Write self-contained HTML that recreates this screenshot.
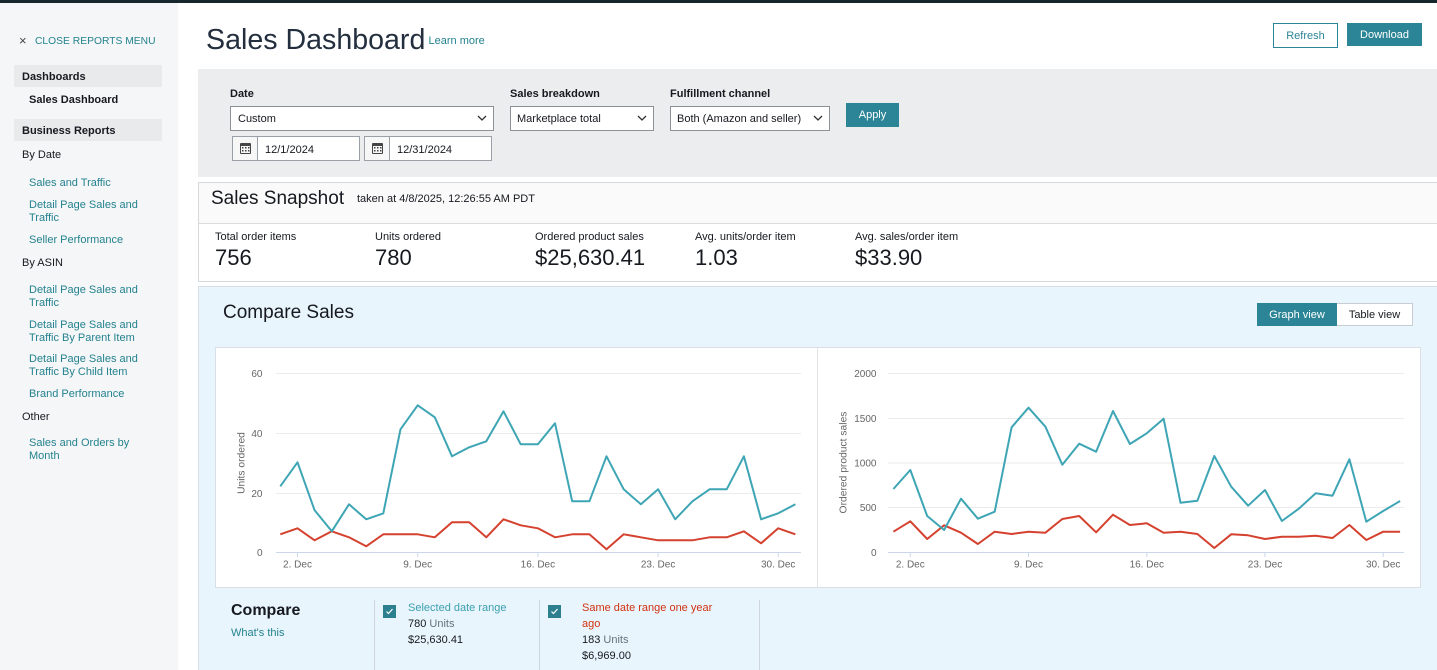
<!DOCTYPE html>
<html><head><meta charset="utf-8"><style>
*{box-sizing:border-box}
body{margin:0;width:1437px;height:670px;overflow:hidden;position:relative;background:#fff;font-family:"Liberation Sans",Arial,sans-serif;color:#16191f}
.a{position:absolute}
.t{position:absolute;white-space:nowrap;font-size:11px;line-height:14px;margin-top:1px}
.t0{margin-top:0}
.m{position:absolute;white-space:nowrap;font-size:11px;line-height:13px;color:#23828f;margin-top:1px}
.lk{color:#23828f}
.b{font-weight:bold}
.box{position:absolute;background:#fff;border:1px solid #8c9196}
.btn{position:absolute;font-size:11px;text-align:center;padding-top:1px}
</style></head><body>
<div class="a" style="left:0;top:0;width:1437px;height:3px;background:#15262c"></div>
<!-- sidebar -->
<div class="a" style="left:0;top:3px;width:178px;height:667px;background:#f5f6f7"></div>
<div class="t" style="left:19px;top:33px;font-size:13px;color:#444">×</div>
<div class="t lk" style="left:35px;top:34px;font-size:10.3px">CLOSE REPORTS MENU</div>
<div class="a" style="left:14px;top:65px;width:148px;height:22px;background:#e8eaec"></div>
<div class="t b" style="left:22px;top:69px">Dashboards</div>
<div class="t b" style="left:29px;top:92px">Sales Dashboard</div>
<div class="a" style="left:14px;top:119px;width:148px;height:22px;background:#e8eaec"></div>
<div class="t b" style="left:22px;top:123px">Business Reports</div>
<div class="t" style="left:22px;top:147px">By Date</div>
<div class="t lk" style="left:29px;top:175px">Sales and Traffic</div>
<div class="m" style="left:29px;top:197.5px">Detail Page Sales and<br>Traffic</div>
<div class="t lk" style="left:29px;top:232px">Seller Performance</div>
<div class="t" style="left:22px;top:255px">By ASIN</div>
<div class="m" style="left:29px;top:282.5px">Detail Page Sales and<br>Traffic</div>
<div class="m" style="left:29px;top:317.5px">Detail Page Sales and<br>Traffic By Parent Item</div>
<div class="m" style="left:29px;top:351.8px">Detail Page Sales and<br>Traffic By Child Item</div>
<div class="t lk" style="left:29px;top:386px">Brand Performance</div>
<div class="t" style="left:22px;top:409px">Other</div>
<div class="m" style="left:29px;top:436.2px">Sales and Orders by<br>Month</div>

<!-- header -->
<div class="t t0" style="left:206px;top:23px;font-size:28.6px;line-height:34px;color:#232f3e">Sales Dashboard</div>
<div class="t lk" style="left:428.5px;top:33.3px">Learn more</div>
<div class="btn" style="left:1273px;top:23px;width:65px;height:25px;border:1px solid #2b8596;color:#2b8596;line-height:22px">Refresh</div>
<div class="btn" style="left:1347px;top:23px;width:75px;height:23px;background:#2b8596;color:#fff;line-height:22px">Download</div>

<!-- filters -->
<div class="a" style="left:198px;top:69px;width:1239px;height:108px;background:#ebedef"></div>
<div class="t b" style="left:230px;top:86px">Date</div>
<div class="box" style="left:230px;top:106px;width:264px;height:25px"></div>
<div class="t" style="left:238px;top:111px">Custom</div>
<div class="box" style="left:232px;top:136px;width:26px;height:25px;border-color:#9aa0a6;background:#f7f7f7"></div>
<div class="box" style="left:257px;top:136px;width:103px;height:25px;border-color:#9aa0a6"></div>
<div class="t" style="left:265px;top:141.5px">12/1/2024</div>
<div class="box" style="left:364px;top:136px;width:26px;height:25px;border-color:#9aa0a6;background:#f7f7f7"></div>
<div class="box" style="left:389px;top:136px;width:103px;height:25px;border-color:#9aa0a6"></div>
<div class="t" style="left:397px;top:141.5px">12/31/2024</div>
<div class="t b" style="left:510px;top:86px">Sales breakdown</div>
<div class="box" style="left:510px;top:106px;width:144px;height:25px"></div>
<div class="t" style="left:517px;top:111px">Marketplace total</div>
<div class="t b" style="left:670px;top:86px">Fulfillment channel</div>
<div class="box" style="left:670px;top:106px;width:160px;height:25px"></div>
<div class="t" style="left:677px;top:111px">Both (Amazon and seller)</div>
<div class="btn" style="left:846px;top:103px;width:53px;height:24px;background:#2b8596;color:#fff;line-height:23px">Apply</div>

<!-- snapshot -->
<div class="a" style="left:198px;top:182px;width:1245px;height:100px;border:1px solid #d5d9dc;background:#fff"></div>
<div class="a" style="left:199px;top:183px;width:1238px;height:41px;background:#fafafa;border-bottom:1px solid #d9dcdf"></div>
<div class="t t0" style="left:211px;top:188px;font-size:19px;line-height:22px;color:#16191f">Sales Snapshot</div>
<div class="t" style="left:357px;top:191px">taken at 4/8/2025, 12:26:55 AM PDT</div>
<div class="t t0" style="left:215px;top:229.7px">Total order items</div>
<div class="t t0" style="left:375px;top:229.7px">Units ordered</div>
<div class="t t0" style="left:535px;top:229.7px">Ordered product sales</div>
<div class="t t0" style="left:695px;top:229.7px">Avg. units/order item</div>
<div class="t t0" style="left:855px;top:229.7px">Avg. sales/order item</div>
<div class="t t0" style="left:215px;top:244.5px;font-size:22px;line-height:26px">756</div>
<div class="t t0" style="left:375px;top:244.5px;font-size:22px;line-height:26px">780</div>
<div class="t t0" style="left:535px;top:244.5px;font-size:22px;line-height:26px">$25,630.41</div>
<div class="t t0" style="left:695px;top:244.5px;font-size:22px;line-height:26px">1.03</div>
<div class="t t0" style="left:855px;top:244.5px;font-size:22px;line-height:26px">$33.90</div>

<!-- compare -->
<div class="a" style="left:198px;top:286px;width:1239px;height:384px;background:#e9f5fc;border-top:1px solid #d8dfe4;border-left:1px solid #d8dfe4"></div>
<div class="t t0" style="left:223px;top:302px;font-size:19px;line-height:22px">Compare Sales</div>
<div class="btn" style="left:1257px;top:303px;width:80px;height:23px;background:#2b8596;color:#fff;line-height:22px">Graph view</div>
<div class="btn" style="left:1337px;top:303px;width:76px;height:23px;background:#fff;border:1px solid #c8cdd2;border-left:none;line-height:20px">Table view</div>
<div class="a" style="left:215px;top:347px;width:1206px;height:241px;background:#fff;border:1px solid #d9dfe3"></div>
<div class="a" style="left:817px;top:348px;width:1px;height:239px;background:#e1e4e7"></div>

<div class="t b" style="left:231px;top:600px;font-size:16px;line-height:20px">Compare</div>
<div class="t lk" style="left:231px;top:625.3px">What's this</div>
<div class="a" style="left:374px;top:600px;width:1px;height:70px;background:#cfd6db"></div>
<div class="a" style="left:539px;top:600px;width:1px;height:70px;background:#cfd6db"></div>
<div class="a" style="left:759px;top:600px;width:1px;height:70px;background:#cfd6db"></div>
<div class="a" style="left:383px;top:605px;width:13px;height:13px;background:#2b7f8f"></div>
<div class="a" style="left:548px;top:605px;width:13px;height:13px;background:#2b7f8f"></div>
<div class="t" style="left:408px;top:600px;color:#3a9fae">Selected date range</div>
<div class="t" style="left:408px;top:616.3px">780 <span style="color:#687078">Units</span></div>
<div class="t" style="left:408px;top:632.3px">$25,630.41</div>
<div class="t" style="left:582px;top:600px;color:#d13212">Same date range one year</div>
<div class="t" style="left:582px;top:616.3px;color:#d13212">ago</div>
<div class="t" style="left:582px;top:632.3px">183 <span style="color:#687078">Units</span></div>
<div class="t" style="left:582px;top:647.5px">$6,969.00</div>

<svg class="a" style="left:0;top:0" width="1437" height="670" viewBox="0 0 1437 670" font-family="Liberation Sans, Arial, sans-serif">
<!-- icons -->
<g stroke="#333" stroke-width="1.3" fill="none">
<polyline points="478,116 482,120 486,116"/>
<polyline points="638,116 642,120 646,116"/>
<polyline points="814,116 818,120 822,116"/>
</g>
<g fill="#444">
<rect x="240" y="143" width="11" height="11" rx="1"/>
<rect x="372" y="143" width="11" height="11" rx="1"/>
</g>
<g fill="#f7f7f7">
<rect x="241" y="146" width="9" height="7"/>
<rect x="373" y="146" width="9" height="7"/>
</g>
<g fill="#444">
<rect x="242" y="147" width="1.5" height="1.5"/><rect x="245" y="147" width="1.5" height="1.5"/><rect x="248" y="147" width="1.5" height="1.5"/>
<rect x="242" y="150" width="1.5" height="1.5"/><rect x="245" y="150" width="1.5" height="1.5"/><rect x="248" y="150" width="1.5" height="1.5"/>
<rect x="374" y="147" width="1.5" height="1.5"/><rect x="377" y="147" width="1.5" height="1.5"/><rect x="380" y="147" width="1.5" height="1.5"/>
<rect x="374" y="150" width="1.5" height="1.5"/><rect x="377" y="150" width="1.5" height="1.5"/><rect x="380" y="150" width="1.5" height="1.5"/>
</g>
<g stroke="#fff" stroke-width="1.2" fill="none">
<polyline points="386.5,611.5 388.5,613.5 392.5,609"/>
<polyline points="551.5,611.5 553.5,613.5 557.5,609"/>
</g>

<!-- left chart -->
<g stroke="#ebebeb" stroke-width="1">
<line x1="276" y1="373.5" x2="801" y2="373.5"/>
<line x1="276" y1="433.5" x2="801" y2="433.5"/>
<line x1="276" y1="493.5" x2="801" y2="493.5"/>
</g>
<line x1="276" y1="552.5" x2="801" y2="552.5" stroke="#ccd6eb"/>
<g stroke="#ccd6eb">
<line x1="297.5" y1="552.5" x2="297.5" y2="557"/>
<line x1="417.7" y1="552.5" x2="417.7" y2="557"/>
<line x1="537.9" y1="552.5" x2="537.9" y2="557"/>
<line x1="658.1" y1="552.5" x2="658.1" y2="557"/>
<line x1="778.2" y1="552.5" x2="778.2" y2="557"/>
</g>
<g font-size="10" fill="#666" text-anchor="end">
<text x="262.5" y="376.8">60</text>
<text x="262.5" y="436.8">40</text>
<text x="262.5" y="496.8">20</text>
<text x="262.5" y="555.8">0</text>
</g>
<g font-size="10" fill="#666" text-anchor="middle">
<text x="297.5" y="567.5">2. Dec</text>
<text x="417.7" y="567.5">9. Dec</text>
<text x="537.9" y="567.5">16. Dec</text>
<text x="658.1" y="567.5">23. Dec</text>
<text x="778.2" y="567.5">30. Dec</text>
<text transform="translate(244.5,463) rotate(-90)" font-size="10.3">Units ordered</text>
</g>
<polyline fill="none" stroke="#d5412f" stroke-width="2" stroke-linejoin="round" points="280.3,534.3 297.5,528.3 314.6,540.3 331.8,531.3 349,537.3 366.2,546.3 383.3,534.3 400.5,534.3 417.7,534.3 434.8,537.3 452,522.3 469.2,522.3 486.3,537.3 503.5,519.3 520.7,525.3 537.9,528.3 555,537.3 572.2,534.3 589.4,534.3 606.5,549.3 623.7,534.3 640.9,537.3 658.1,540.3 675.2,540.3 692.4,540.3 709.6,537.3 726.7,537.3 743.9,531.3 761.1,543.3 778.2,528.3 795.4,534.3"/>
<polyline fill="none" stroke="#3ea5b5" stroke-width="2" stroke-linejoin="round" points="280.3,486.3 297.5,462.3 314.6,510.3 331.8,531.3 349,504.3 366.2,519.3 383.3,513.3 400.5,429.3 417.7,405.3 434.8,417.3 452,456.3 469.2,447.3 486.3,441.3 503.5,411.3 520.7,444.3 537.9,444.3 555,423.3 572.2,501.3 589.4,501.3 606.5,456.3 623.7,489.3 640.9,504.3 658.1,489.3 675.2,519.3 692.4,501.3 709.6,489.3 726.7,489.3 743.9,456.3 761.1,519.3 778.2,513.3 795.4,504.3"/>

<!-- right chart -->
<g stroke="#ebebeb" stroke-width="1">
<line x1="888" y1="373.5" x2="1404" y2="373.5"/>
<line x1="888" y1="418.5" x2="1404" y2="418.5"/>
<line x1="888" y1="463" x2="1404" y2="463"/>
<line x1="888" y1="507.5" x2="1404" y2="507.5"/>
</g>
<line x1="888" y1="552.5" x2="1404" y2="552.5" stroke="#ccd6eb"/>
<g stroke="#ccd6eb">
<line x1="910.3" y1="552.5" x2="910.3" y2="557"/>
<line x1="1028.5" y1="552.5" x2="1028.5" y2="557"/>
<line x1="1146.8" y1="552.5" x2="1146.8" y2="557"/>
<line x1="1265" y1="552.5" x2="1265" y2="557"/>
<line x1="1383.2" y1="552.5" x2="1383.2" y2="557"/>
</g>
<g font-size="10" fill="#666" text-anchor="end">
<text x="876.5" y="376.8">2000</text>
<text x="876.5" y="421.8">1500</text>
<text x="876.5" y="466.5">1000</text>
<text x="876.5" y="511">500</text>
<text x="876.5" y="555.8">0</text>
</g>
<g font-size="10" fill="#666" text-anchor="middle">
<text x="910.3" y="567.5">2. Dec</text>
<text x="1028.5" y="567.5">9. Dec</text>
<text x="1146.8" y="567.5">16. Dec</text>
<text x="1265" y="567.5">23. Dec</text>
<text x="1383.2" y="567.5">30. Dec</text>
<text transform="translate(846.5,462.5) rotate(-90)" font-size="10.3">Ordered product sales</text>
</g>
<polyline fill="none" stroke="#d5412f" stroke-width="2" stroke-linejoin="round" points="893.4,531.7 910.3,521.3 927.2,539 944.1,525.3 961,532.7 977.9,544 994.7,531.7 1011.6,534 1028.5,531.7 1045.4,532.7 1062.3,519 1079.2,516 1096.1,532.3 1113,514.7 1129.9,525 1146.8,523.3 1163.6,532.7 1180.5,531.7 1197.4,534 1214.3,548 1231.2,534.3 1248.1,535.3 1265,539 1281.9,536.7 1298.8,536.7 1315.7,535.7 1332.5,538 1349.4,525 1366.3,540 1383.2,531.7 1400.1,531.7"/>
<polyline fill="none" stroke="#3ea5b5" stroke-width="2" stroke-linejoin="round" points="893.4,489 910.3,470 927.2,516 944.1,530 961,498.7 977.9,518.7 994.7,511.7 1011.6,427.3 1028.5,407.7 1045.4,426.7 1062.3,464.7 1079.2,443.7 1096.1,451.7 1113,411 1129.9,444 1146.8,433.3 1163.6,418.7 1180.5,502.7 1197.4,500.7 1214.3,456 1231.2,486.7 1248.1,505.7 1265,490 1281.9,521 1298.8,508.7 1315.7,493.3 1332.5,495.7 1349.4,459.3 1366.3,521.7 1383.2,511 1400.1,501"/>
</svg>
</body></html>
